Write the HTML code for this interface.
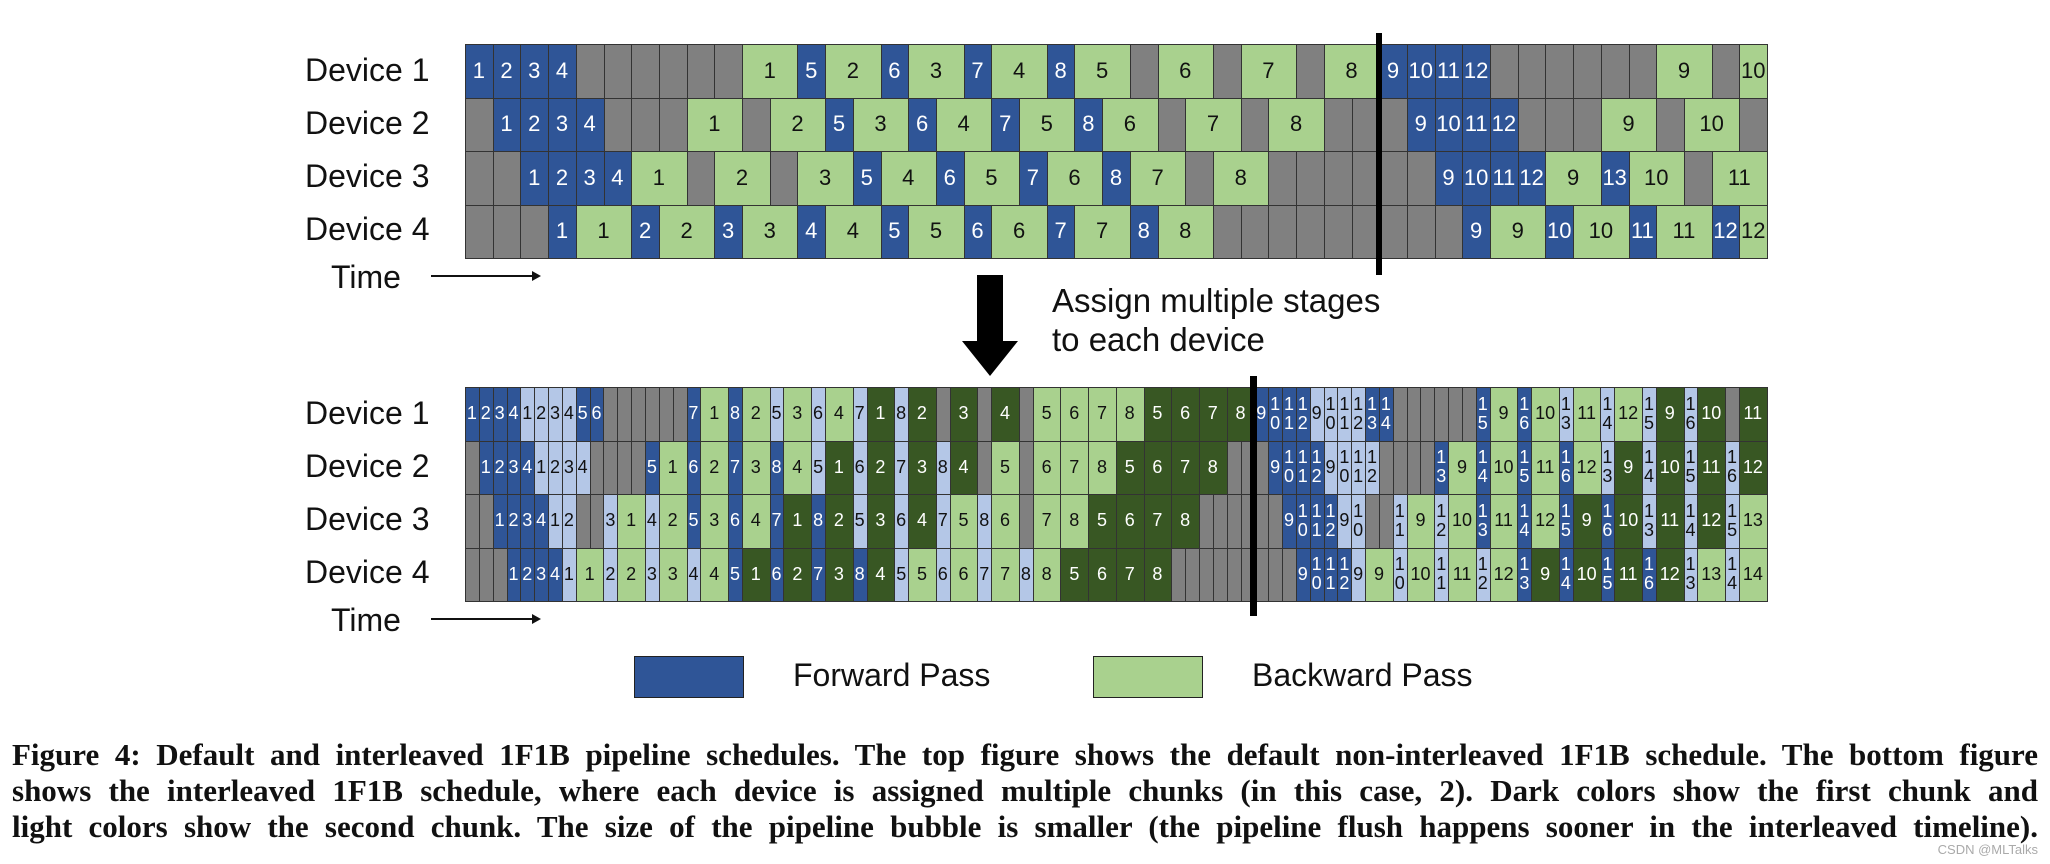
<!DOCTYPE html>
<html><head><meta charset="utf-8">
<style>
html,body{margin:0;padding:0;background:#fff;}
body{width:2050px;height:864px;position:relative;overflow:hidden;font-family:"Liberation Sans",sans-serif;}
.g{position:absolute;left:465px;width:1302px;border-right:1px solid #333;border-bottom:1px solid #333;}
.r{display:flex;height:53.5px;}
.r b{flex:1 1 0;min-width:0;overflow:hidden;display:flex;align-items:center;justify-content:center;box-shadow:inset 1px 1px 0 #333;font-weight:normal;}
.r b.w{flex:2 1 0;}
.t .r b{font-size:22px;}
.m .r b{font-size:18px;}
.f{background:#2F5597;color:#fff;}
.l{background:#B4C7E7;color:#111;}
.gg{background:#A9D18E;color:#111;}
.d{background:#385723;color:#fff;}
.x{background:#808080;}
.s{line-height:19px;text-align:center;}
.lab{position:absolute;font-size:32px;color:#111;white-space:nowrap;}
.arr{position:absolute;height:2px;background:#111;}
.arr:after{content:"";position:absolute;right:-2px;top:-4px;border-left:9px solid #111;border-top:5px solid transparent;border-bottom:5px solid transparent;}
.vl{position:absolute;background:#000;}
.cap{position:absolute;left:12px;width:2026px;font-family:"Liberation Serif",serif;font-weight:bold;font-size:31px;color:#111;text-align:justify;text-align-last:justify;line-height:36px;height:36px;overflow:hidden;}
</style></head><body>

<div class="lab" style="left:305px;top:52px">Device 1</div>
<div class="lab" style="left:305px;top:105px">Device 2</div>
<div class="lab" style="left:305px;top:158px">Device 3</div>
<div class="lab" style="left:305px;top:211px">Device 4</div>
<div class="lab" style="left:331px;top:259px">Time</div>
<div class="arr" style="left:431px;top:275px;width:108px"></div>

<div class="g t" style="top:44px">
<div class="r"><b class=f>1</b><b class=f>2</b><b class=f>3</b><b class=f>4</b><b class=x></b><b class=x></b><b class=x></b><b class=x></b><b class=x></b><b class=x></b><b class="gg w">1</b><b class=f>5</b><b class="gg w">2</b><b class=f>6</b><b class="gg w">3</b><b class=f>7</b><b class="gg w">4</b><b class=f>8</b><b class="gg w">5</b><b class=x></b><b class="gg w">6</b><b class=x></b><b class="gg w">7</b><b class=x></b><b class="gg w">8</b><b class=f>9</b><b class=f>10</b><b class=f>11</b><b class=f>12</b><b class=x></b><b class=x></b><b class=x></b><b class=x></b><b class=x></b><b class=x></b><b class="gg w">9</b><b class=x></b><b class=gg>10</b></div>
<div class="r"><b class=x></b><b class=f>1</b><b class=f>2</b><b class=f>3</b><b class=f>4</b><b class=x></b><b class=x></b><b class=x></b><b class="gg w">1</b><b class=x></b><b class="gg w">2</b><b class=f>5</b><b class="gg w">3</b><b class=f>6</b><b class="gg w">4</b><b class=f>7</b><b class="gg w">5</b><b class=f>8</b><b class="gg w">6</b><b class=x></b><b class="gg w">7</b><b class=x></b><b class="gg w">8</b><b class=x></b><b class=x></b><b class=x></b><b class=f>9</b><b class=f>10</b><b class=f>11</b><b class=f>12</b><b class=x></b><b class=x></b><b class=x></b><b class="gg w">9</b><b class=x></b><b class="gg w">10</b><b class=x></b></div>
<div class="r"><b class=x></b><b class=x></b><b class=f>1</b><b class=f>2</b><b class=f>3</b><b class=f>4</b><b class="gg w">1</b><b class=x></b><b class="gg w">2</b><b class=x></b><b class="gg w">3</b><b class=f>5</b><b class="gg w">4</b><b class=f>6</b><b class="gg w">5</b><b class=f>7</b><b class="gg w">6</b><b class=f>8</b><b class="gg w">7</b><b class=x></b><b class="gg w">8</b><b class=x></b><b class=x></b><b class=x></b><b class=x></b><b class=x></b><b class=x></b><b class=f>9</b><b class=f>10</b><b class=f>11</b><b class=f>12</b><b class="gg w">9</b><b class=f>13</b><b class="gg w">10</b><b class=x></b><b class="gg w">11</b></div>
<div class="r"><b class=x></b><b class=x></b><b class=x></b><b class=f>1</b><b class="gg w">1</b><b class=f>2</b><b class="gg w">2</b><b class=f>3</b><b class="gg w">3</b><b class=f>4</b><b class="gg w">4</b><b class=f>5</b><b class="gg w">5</b><b class=f>6</b><b class="gg w">6</b><b class=f>7</b><b class="gg w">7</b><b class=f>8</b><b class="gg w">8</b><b class=x></b><b class=x></b><b class=x></b><b class=x></b><b class=x></b><b class=x></b><b class=x></b><b class=x></b><b class=x></b><b class=f>9</b><b class="gg w">9</b><b class=f>10</b><b class="gg w">10</b><b class=f>11</b><b class="gg w">11</b><b class=f>12</b><b class=gg>12</b></div>
</div>
<div class="vl" style="left:1376px;top:33px;width:6px;height:242px"></div>

<svg style="position:absolute;left:960px;top:275px" width="60" height="102"><polygon points="17,0 43,0 43,66 58,66 30,101 2,66 17,66" fill="#000"/></svg>
<div class="lab" style="left:1052px;top:282px;font-size:33px">Assign multiple stages</div>
<div class="lab" style="left:1052px;top:321px;font-size:33px">to each device</div>

<div class="lab" style="left:305px;top:395px">Device 1</div>
<div class="lab" style="left:305px;top:448px">Device 2</div>
<div class="lab" style="left:305px;top:501px">Device 3</div>
<div class="lab" style="left:305px;top:554px">Device 4</div>
<div class="lab" style="left:331px;top:602px">Time</div>
<div class="arr" style="left:431px;top:618px;width:108px"></div>

<div class="g m" style="top:387px">
<div class="r"><b class=f>1</b><b class=f>2</b><b class=f>3</b><b class=f>4</b><b class=l>1</b><b class=l>2</b><b class=l>3</b><b class=l>4</b><b class=f>5</b><b class=f>6</b><b class=x></b><b class=x></b><b class=x></b><b class=x></b><b class=x></b><b class=x></b><b class=f>7</b><b class="gg w">1</b><b class=f>8</b><b class="gg w">2</b><b class=l>5</b><b class="gg w">3</b><b class=l>6</b><b class="gg w">4</b><b class=l>7</b><b class="d w">1</b><b class=l>8</b><b class="d w">2</b><b class=x></b><b class="d w">3</b><b class=x></b><b class="d w">4</b><b class=x></b><b class="gg w">5</b><b class="gg w">6</b><b class="gg w">7</b><b class="gg w">8</b><b class="d w">5</b><b class="d w">6</b><b class="d w">7</b><b class="d w">8</b><b class=f>9</b><b class="f s">1<br>0</b><b class="f s">1<br>1</b><b class="f s">1<br>2</b><b class=l>9</b><b class="l s">1<br>0</b><b class="l s">1<br>1</b><b class="l s">1<br>2</b><b class="f s">1<br>3</b><b class="f s">1<br>4</b><b class=x></b><b class=x></b><b class=x></b><b class=x></b><b class=x></b><b class=x></b><b class="f s">1<br>5</b><b class="gg w">9</b><b class="f s">1<br>6</b><b class="gg w">10</b><b class="l s">1<br>3</b><b class="gg w">11</b><b class="l s">1<br>4</b><b class="gg w">12</b><b class="l s">1<br>5</b><b class="d w">9</b><b class="l s">1<br>6</b><b class="d w">10</b><b class=x></b><b class="d w">11</b></div>
<div class="r"><b class=x></b><b class=f>1</b><b class=f>2</b><b class=f>3</b><b class=f>4</b><b class=l>1</b><b class=l>2</b><b class=l>3</b><b class=l>4</b><b class=x></b><b class=x></b><b class=x></b><b class=x></b><b class=f>5</b><b class="gg w">1</b><b class=f>6</b><b class="gg w">2</b><b class=f>7</b><b class="gg w">3</b><b class=f>8</b><b class="gg w">4</b><b class=l>5</b><b class="d w">1</b><b class=l>6</b><b class="d w">2</b><b class=l>7</b><b class="d w">3</b><b class=l>8</b><b class="d w">4</b><b class=x></b><b class="gg w">5</b><b class=x></b><b class="gg w">6</b><b class="gg w">7</b><b class="gg w">8</b><b class="d w">5</b><b class="d w">6</b><b class="d w">7</b><b class="d w">8</b><b class=x></b><b class=x></b><b class=x></b><b class=f>9</b><b class="f s">1<br>0</b><b class="f s">1<br>1</b><b class="f s">1<br>2</b><b class=l>9</b><b class="l s">1<br>0</b><b class="l s">1<br>1</b><b class="l s">1<br>2</b><b class=x></b><b class=x></b><b class=x></b><b class=x></b><b class="f s">1<br>3</b><b class="gg w">9</b><b class="f s">1<br>4</b><b class="gg w">10</b><b class="f s">1<br>5</b><b class="gg w">11</b><b class="f s">1<br>6</b><b class="gg w">12</b><b class="l s">1<br>3</b><b class="d w">9</b><b class="l s">1<br>4</b><b class="d w">10</b><b class="l s">1<br>5</b><b class="d w">11</b><b class="l s">1<br>6</b><b class="d w">12</b></div>
<div class="r"><b class=x></b><b class=x></b><b class=f>1</b><b class=f>2</b><b class=f>3</b><b class=f>4</b><b class=l>1</b><b class=l>2</b><b class=x></b><b class=x></b><b class=l>3</b><b class="gg w">1</b><b class=l>4</b><b class="gg w">2</b><b class=f>5</b><b class="gg w">3</b><b class=f>6</b><b class="gg w">4</b><b class=f>7</b><b class="d w">1</b><b class=f>8</b><b class="d w">2</b><b class=l>5</b><b class="d w">3</b><b class=l>6</b><b class="d w">4</b><b class=l>7</b><b class="gg w">5</b><b class=l>8</b><b class="gg w">6</b><b class=x></b><b class="gg w">7</b><b class="gg w">8</b><b class="d w">5</b><b class="d w">6</b><b class="d w">7</b><b class="d w">8</b><b class=x></b><b class=x></b><b class=x></b><b class=x></b><b class=x></b><b class=x></b><b class=f>9</b><b class="f s">1<br>0</b><b class="f s">1<br>1</b><b class="f s">1<br>2</b><b class=l>9</b><b class="l s">1<br>0</b><b class=x></b><b class=x></b><b class="l s">1<br>1</b><b class="gg w">9</b><b class="l s">1<br>2</b><b class="gg w">10</b><b class="f s">1<br>3</b><b class="gg w">11</b><b class="f s">1<br>4</b><b class="gg w">12</b><b class="f s">1<br>5</b><b class="d w">9</b><b class="f s">1<br>6</b><b class="d w">10</b><b class="l s">1<br>3</b><b class="d w">11</b><b class="l s">1<br>4</b><b class="d w">12</b><b class="l s">1<br>5</b><b class="gg w">13</b></div>
<div class="r"><b class=x></b><b class=x></b><b class=x></b><b class=f>1</b><b class=f>2</b><b class=f>3</b><b class=f>4</b><b class=l>1</b><b class="gg w">1</b><b class=l>2</b><b class="gg w">2</b><b class=l>3</b><b class="gg w">3</b><b class=l>4</b><b class="gg w">4</b><b class=f>5</b><b class="d w">1</b><b class=f>6</b><b class="d w">2</b><b class=f>7</b><b class="d w">3</b><b class=f>8</b><b class="d w">4</b><b class=l>5</b><b class="gg w">5</b><b class=l>6</b><b class="gg w">6</b><b class=l>7</b><b class="gg w">7</b><b class=l>8</b><b class="gg w">8</b><b class="d w">5</b><b class="d w">6</b><b class="d w">7</b><b class="d w">8</b><b class=x></b><b class=x></b><b class=x></b><b class=x></b><b class=x></b><b class=x></b><b class=x></b><b class=x></b><b class=x></b><b class=f>9</b><b class="f s">1<br>0</b><b class="f s">1<br>1</b><b class="f s">1<br>2</b><b class=l>9</b><b class="gg w">9</b><b class="l s">1<br>0</b><b class="gg w">10</b><b class="l s">1<br>1</b><b class="gg w">11</b><b class="l s">1<br>2</b><b class="gg w">12</b><b class="f s">1<br>3</b><b class="d w">9</b><b class="f s">1<br>4</b><b class="d w">10</b><b class="f s">1<br>5</b><b class="d w">11</b><b class="f s">1<br>6</b><b class="d w">12</b><b class="l s">1<br>3</b><b class="gg w">13</b><b class="l s">1<br>4</b><b class="gg w">14</b></div>
</div>
<div class="vl" style="left:1250px;top:376px;width:7px;height:240px"></div>

<div style="position:absolute;left:634px;top:656px;width:108px;height:40px;background:#2F5597;border:1px solid #222"></div>
<div class="lab" style="left:793px;top:657px">Forward Pass</div>
<div style="position:absolute;left:1093px;top:656px;width:108px;height:40px;background:#A9D18E;border:1px solid #222"></div>
<div class="lab" style="left:1252px;top:657px">Backward Pass</div>

<div class="cap" style="top:737px">Figure 4: Default and interleaved 1F1B pipeline schedules. The top figure shows the default non-interleaved 1F1B schedule. The bottom figure</div>
<div class="cap" style="top:773px">shows the interleaved 1F1B schedule, where each device is assigned multiple chunks (in this case, 2). Dark colors show the first chunk and</div>
<div class="cap" style="top:809px">light colors show the second chunk. The size of the pipeline bubble is smaller (the pipeline flush happens sooner in the interleaved timeline).</div>
<div style="position:absolute;right:12px;top:842px;font-size:13px;color:#aaa;">CSDN @MLTalks</div>
</body></html>
